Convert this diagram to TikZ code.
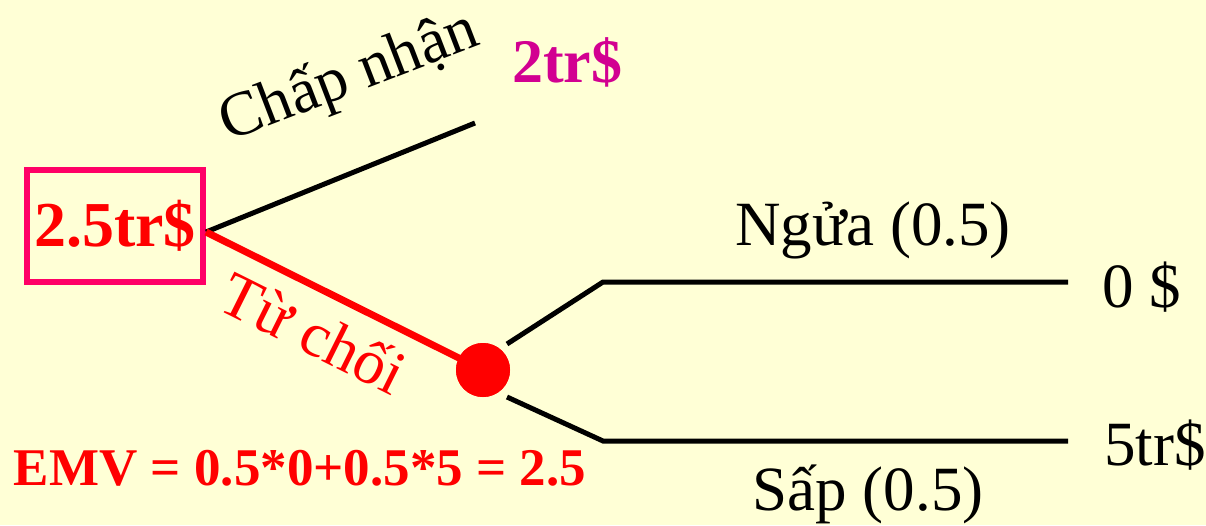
\documentclass[tikz,border=0pt]{standalone}
\usepackage{fontspec}
\setmainfont{Liberation Serif}
\definecolor{bg}{RGB}{255,255,214}
\definecolor{boxpink}{RGB}{255,0,102}
\definecolor{mag}{RGB}{210,0,145}
\tikzset{
  lbl/.style={inner sep=0pt, font=\fontsize{63}{70}\selectfont},
  blbl/.style={inner sep=0pt, font=\fontsize{64}{70}\selectfont\bfseries},
  branch/.style={line width=5pt, black},
  redbranch/.style={line width=7pt, red},
}
\begin{document}
\begin{tikzpicture}[x=1pt,y=-1pt]
\fill[bg] (0,0) rectangle (1206,525);
\useasboundingbox (0,0) rectangle (1206,525);
% decision node
\node[draw=boxpink, line width=6pt, minimum width=176pt, minimum height=112pt, inner sep=0pt,
      text=red, font=\fontsize{64}{70}\selectfont\bfseries] (root) at (115,226) {2.5tr\$};
\coordinate (r) at (206,232);
\coordinate (acc) at (475,123);
% chance node
\node[circle, fill=red, minimum size=54pt, inner sep=0pt] (c) at (483,370) {};
\coordinate (u0) at (507,344);
\coordinate (u1) at (603,282);
\coordinate (u2) at (1068,282);
\coordinate (d0) at (507,397);
\coordinate (d1) at (603,441);
\coordinate (d2) at (1068,441);
% connectors
\draw[branch] (r) -- (acc);
\draw[redbranch] (r) -- (c.center);
\node[circle, fill=red, minimum size=54pt, inner sep=0pt] at (c) {};
\draw[branch] (u0) -- (u1) -- (u2);
\draw[branch] (d0) -- (d1) -- (d2);
% labels
\node[lbl, anchor=base, rotate=21] (lacc) at (355,93) {Chấp nhận};
\node[lbl, anchor=base, rotate=-26.5, text=red] (lrej) at (304,352) {Từ chối};
\node[blbl, anchor=base west, text=mag, font=\fontsize{62}{70}\selectfont\bfseries] (v2) at (512,82) {2tr\$};
\node[lbl, anchor=base] (lh) at (873,245) {Ngửa (0.5)};
\node[lbl, anchor=base] (lt) at (868,510) {Sấp (0.5)};
\node[lbl, anchor=base west] (v0) at (1102,307) {0 \$};
\node[lbl, anchor=base west] (v5) at (1104,465) {5tr\$};
\node[inner sep=0pt, anchor=base, text=red, font=\fontsize{53}{60}\selectfont\bfseries] (emv) at (300,485) {EMV = 0.5*0+0.5*5 = 2.5};
\end{tikzpicture}
\end{document}
